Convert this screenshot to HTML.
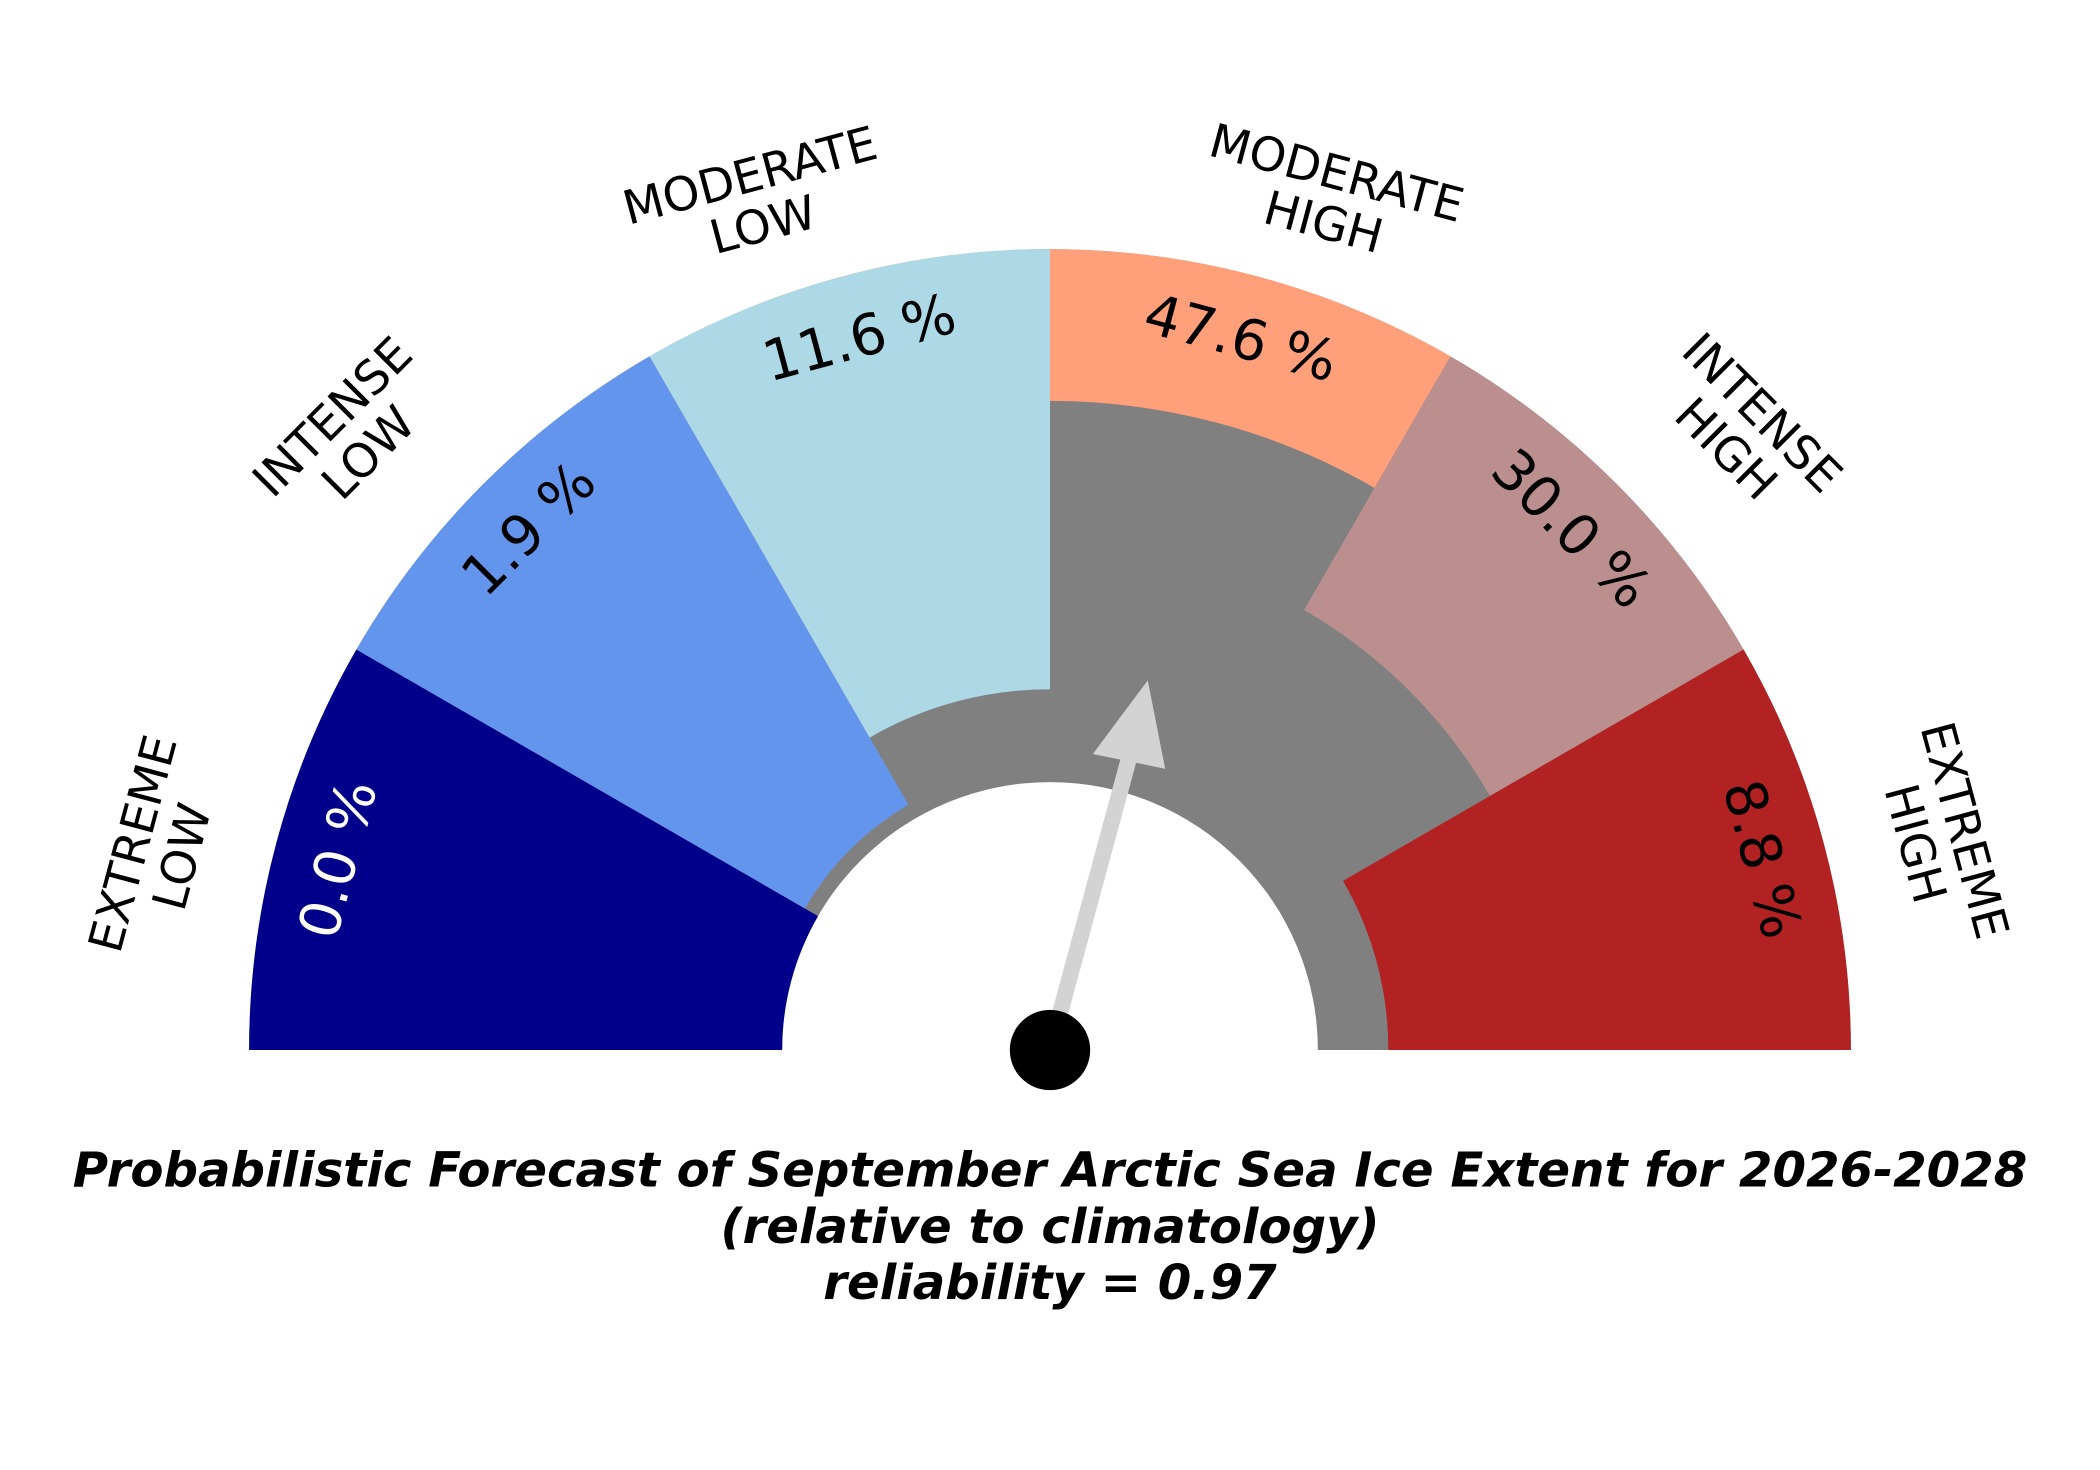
<!DOCTYPE html>
<html><head><meta charset="utf-8"><style>
html,body{margin:0;padding:0;background:#fff;}
svg{display:block;}
text{font-family:"DejaVu Sans","Liberation Sans",sans-serif;}
</style></head><body>
<svg id="s" width="2100" height="1470" viewBox="0 0 1568 1097.6" xmlns="http://www.w3.org/2000/svg">
<g id="sect"></g>
<!-- percentages -->
<g font-size="42" text-anchor="middle" dominant-baseline="central">
<g transform="translate(784 784) rotate(-75)"><text x="0" y="-550" fill="#fff">0.0 %</text></g>
<g transform="translate(784 784) rotate(-45)"><text x="0" y="-550">1.9 %</text></g>
<g transform="translate(784 784) rotate(-15)"><text x="0" y="-550">11.6 %</text></g>
<g transform="translate(784 784) rotate(15)"><text x="0" y="-550">47.6 %</text></g>
<g transform="translate(784 784) rotate(45)"><text x="0" y="-550">30.0 %</text></g>
<g transform="translate(784 784) rotate(75)"><text x="0" y="-550">8.8 %</text></g>
</g>
<!-- category labels -->
<g font-size="35" text-anchor="middle" dominant-baseline="central">
<g transform="translate(118 635) rotate(-75)"><text x="0" y="-19">EXTREME</text><text x="0" y="19">LOW</text></g>
<g transform="translate(262 325) rotate(-45)"><text x="0" y="-19">INTENSE</text><text x="0" y="19">LOW</text></g>
<g transform="translate(565 150) rotate(-15)"><text x="0" y="-19">MODERATE</text><text x="0" y="19">LOW</text></g>
<g transform="translate(993 148) rotate(15)"><text x="0" y="-19">MODERATE</text><text x="0" y="19">HIGH</text></g>
<g transform="translate(1302 322) rotate(45)"><text x="0" y="-19">INTENSE</text><text x="0" y="19">HIGH</text></g>
<g transform="translate(1448 625) rotate(75)"><text x="0" y="-19">EXTREME</text><text x="0" y="19">HIGH</text></g>
</g>
<!-- needle -->
<line x1="784" y1="784" x2="846" y2="555" stroke="#d3d3d3" stroke-width="12"/>
<polygon points="857,508 816,563 870,574" fill="#d3d3d3"/>
<circle cx="784" cy="784" r="30" fill="#000"/>
<!-- title -->
<g font-size="36" font-weight="bold" font-style="italic" text-anchor="middle">
<text x="784" y="886">Probabilistic Forecast of September Arctic Sea Ice Extent for 2026-2028</text>
<text x="784" y="928">(relative to climatology)</text>
<text x="784" y="970">reliability = 0.97</text>
</g>
</svg>
<script>
(function(){
var cx=784,cy=784,R=598,r0=200;
var g=document.getElementById('sect');
function pt(r,a){var t=a*Math.PI/180;return [cx+r*Math.cos(t),cy-r*Math.sin(t)];}
function wedge(ri,ro,a1,a2,fill){
 var p1=pt(ro,a1),p2=pt(ro,a2),p3=pt(ri,a2),p4=pt(ri,a1);
 var d='M'+p1+' A'+ro+','+ro+' 0 0 0 '+p2+' L'+p3+' A'+ri+','+ri+' 0 0 1 '+p4+' Z';
 var e=document.createElementNS('http://www.w3.org/2000/svg','path');
 e.setAttribute('d',d);e.setAttribute('fill',fill);g.appendChild(e);
}
wedge(r0,R,0,180,'#808080');
var cols=['#00008b','#6495ed','#add8e6','#ffa07a','#bc8f8f','#b22222'];
var p=[0,1.9,11.6,47.6,30.0,8.8];
for(var i=0;i<6;i++){
 var a2=180-30*i,a1=a2-30;
 wedge(r0+5.98*p[i],R,a1,a2,cols[i]);
}
})();
</script>
</body></html>
